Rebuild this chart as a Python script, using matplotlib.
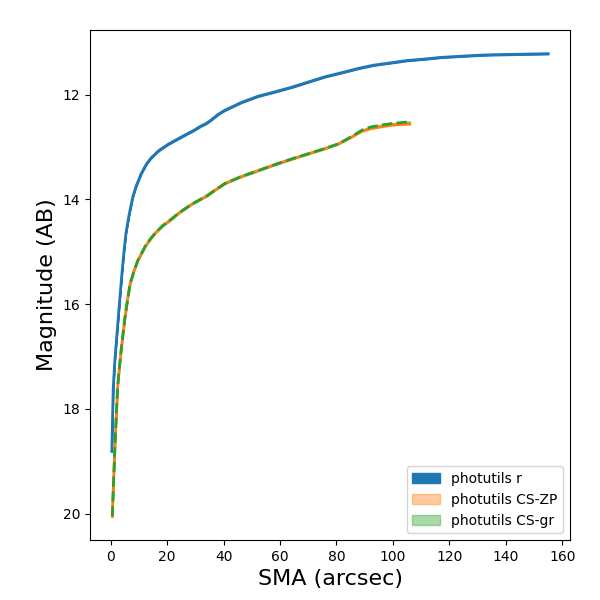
import numpy as np
import matplotlib
matplotlib.use("Agg")
import matplotlib.pyplot as plt

# photutils r profile
sma_r = np.array([0.4, 0.9, 1.5, 2.1, 2.7, 3.3, 4.0, 4.7, 5.4, 6.5, 7.8, 9.0, 10.8, 12.6, 14.3,
                  17, 20.3, 25, 29.2, 32, 33.9, 35.7, 38, 40.4, 46.3, 52.3, 58, 64.1, 70,
                  75.9, 82, 87.8, 93, 99.7, 105, 111.5, 117, 123.4, 130, 135.2, 145, 155])
mag_r = np.array([18.81, 17.6, 17.05, 16.65, 16.25, 15.85, 15.4, 15.0, 14.65, 14.3, 13.96,
                  13.75, 13.51, 13.33, 13.21, 13.07, 12.95, 12.81, 12.69, 12.60, 12.55, 12.48,
                  12.38, 12.30, 12.15, 12.03, 11.95, 11.86, 11.76, 11.66, 11.58, 11.50, 11.44,
                  11.39, 11.35, 11.32, 11.29, 11.27, 11.25, 11.24, 11.23, 11.22])

# photutils CS profiles
sma_cs = np.array([0.57, 1.0, 1.5, 2.0, 2.5, 3.1, 3.7, 4.4, 5.1, 6.0, 6.9, 8.3, 9.6, 12.2,
                   14.3, 16, 18.5, 20.3, 24.4, 28.5, 32.1, 33.9, 36.8, 40.4, 46, 52.3, 58,
                   64.1, 70, 75.9, 80.7, 85, 89, 92, 96.1, 100, 106])
mag_zp = np.array([20.05, 19.4, 18.72, 18.1, 17.55, 17.2, 16.88, 16.55, 16.24, 15.9, 15.61,
                   15.36, 15.17, 14.90, 14.74, 14.63, 14.50, 14.43, 14.25, 14.1, 13.99, 13.94,
                   13.83, 13.70, 13.57, 13.45, 13.34, 13.23, 13.13, 13.03, 12.94, 12.82,
                   12.70, 12.65, 12.61, 12.58, 12.56])
mag_gr = np.array([20.05, 19.4, 18.72, 18.1, 17.55, 17.2, 16.88, 16.55, 16.24, 15.9, 15.61,
                   15.36, 15.17, 14.90, 14.74, 14.63, 14.50, 14.43, 14.25, 14.1, 13.99, 13.94,
                   13.83, 13.70, 13.57, 13.45, 13.34, 13.23, 13.13, 13.03, 12.94, 12.81,
                   12.68, 12.62, 12.58, 12.55, 12.52])

err = 0.01

fig = plt.figure(figsize=(6, 6), dpi=100)
ax = fig.add_axes([0.15, 0.1, 0.8, 0.85])

ax.fill_between(sma_r, mag_r - err, mag_r + err, color='C0', label='photutils r')
ax.plot(sma_r, mag_r, color='C0', lw=2)
ax.fill_between(sma_cs, mag_zp - err, mag_zp + err, color='C1', alpha=0.4,
                label='photutils CS-ZP')
ax.plot(sma_cs, mag_zp, color='C1', lw=2)
ax.fill_between(sma_cs, mag_gr - err, mag_gr + err, color='C2', alpha=0.4,
                label='photutils CS-gr')
ax.plot(sma_cs, mag_gr, color='C2', lw=2, ls='--')

ax.invert_yaxis()
ax.set_xlabel('SMA (arcsec)', fontsize=16)
ax.set_ylabel('Magnitude (AB)', fontsize=16)
ax.legend(loc='lower right')

fig.savefig('out.png')
